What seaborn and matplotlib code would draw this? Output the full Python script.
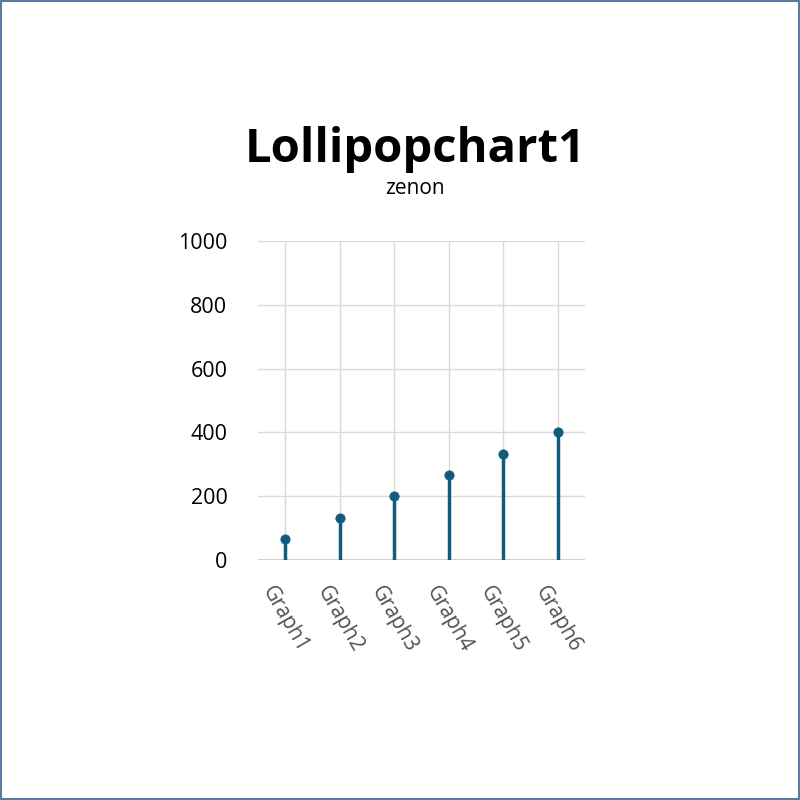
import matplotlib
matplotlib.use('Agg')
import matplotlib.pyplot as plt
import matplotlib.transforms as mtransforms
import seaborn as sns
import pandas as pd

categories = ['Graph1', 'Graph2', 'Graph3', 'Graph4', 'Graph5', 'Graph6']
values = [67, 133, 200, 267, 333, 400]
y_ticks = [0, 200, 400, 600, 800, 1000]

df = pd.DataFrame({'category': categories, 'value': values})

sns.set_theme(style='whitegrid')
plt.rcParams['font.family'] = ['Open Sans', 'DejaVu Sans']

stem_color = '#135b7c'

fig = plt.figure(figsize=(8, 8), dpi=100)
ax = fig.add_axes([0.3225, 0.3, 0.409, 0.39875])

ax.vlines(range(len(df)), 0, df['value'], color=stem_color, linewidth=2.5, zorder=3)
sns.scatterplot(data=df, x='category', y='value', ax=ax, color=stem_color,
                s=45, edgecolor=stem_color, zorder=4, legend=False)

ax.set_xlim(-0.5, len(df) - 0.5)
ax.set_ylim(0, 1000)
ax.set_yticks(y_ticks)
ax.set_yticklabels([str(t) for t in y_ticks], fontsize=15.5, color='black')
ax.set_xticks(range(len(df)))
ax.set_xticklabels(categories, rotation=-60, ha='left', va='top',
                   rotation_mode='anchor', fontsize=15, color='#505050')
ax.tick_params(axis='x', pad=6)
ax.tick_params(axis='y', pad=16)

# nudge the rotated labels a bit left/down
offset = mtransforms.ScaledTranslation(-0.09, -0.06, fig.dpi_scale_trans)
for lbl in ax.get_xticklabels():
    lbl.set_transform(lbl.get_transform() + offset)

ax.set_xlabel('')
ax.set_ylabel('')
ax.grid(True, color='#d9d9d9', linewidth=1)
for s in ax.spines.values():
    s.set_visible(False)
ax.axhline(0, color='#c8c8c8', linewidth=1.2, zorder=2)

fig.text(0.519, 0.797, 'Lollipopchart1', ha='center', va='baseline',
         fontsize=34, fontweight='bold', color='black')
fig.text(0.519, 0.758, 'zenon', ha='center', va='baseline', fontsize=15, color='black')

border = plt.Rectangle((0.001, 0.001), 0.998, 0.998, transform=fig.transFigure,
                       fill=False, edgecolor='#5b7aa5', linewidth=1.5)
fig.patches.append(border)

fig.savefig('out.png', dpi=100, facecolor='white')
